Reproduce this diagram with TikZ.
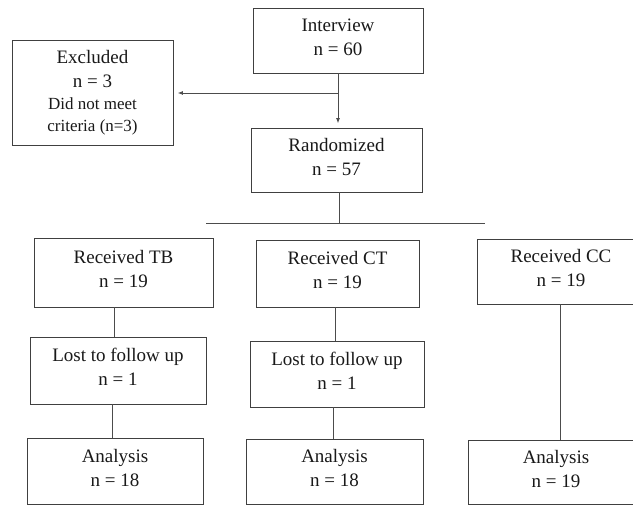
\documentclass[tikz,border=0pt]{standalone}
\usepackage{fontspec}
\setmainfont{Liberation Serif}
\usetikzlibrary{arrows.meta}
\tikzset{
  flowbox/.style={draw=black!75, line width=0.8pt, rectangle, align=center, inner sep=0pt,
    font=\fontsize{19}{24}\selectfont, text=black!90, text depth=7pt},
  conn/.style={draw=black!70, line width=0.8pt},
  arr/.style={conn, -{Latex[length=5pt,width=4pt]}, shorten >=4.5pt}
}
\begin{document}
\begin{tikzpicture}[x=1pt,y=-1pt]
\clip (0,0) rectangle (633,505);
\fill[white] (0,0) rectangle (633,505);
% boxes
\node[flowbox, minimum width=170pt, minimum height=65pt] (interview) at (338,40.5) {Interview\\n = 60};
\node[flowbox, text depth=4pt, minimum width=161pt, minimum height=105pt] (excluded) at (92.5,92.5) {Excluded\\n = 3\\[-2pt]{\fontsize{17}{21}\selectfont Did not meet}\\[-2pt]{\fontsize{17}{21}\selectfont criteria (n=3)}};
\node[flowbox, minimum width=171pt, minimum height=64pt] (random) at (336.5,160) {Randomized\\n = 57};
\node[flowbox, minimum width=179pt, minimum height=69pt] (tb) at (123.5,272.5) {Received TB\\n = 19};
\node[flowbox, minimum width=163pt, minimum height=67pt] (ct) at (337.5,273.5) {Received CT\\n = 19};
\node[flowbox, minimum width=168pt, minimum height=65pt] (cc) at (561,271.5) {Received CC\\n = 19};
\node[flowbox, minimum width=176pt, minimum height=67pt] (losttb) at (118,370.5) {Lost to follow up\\n = 1};
\node[flowbox, minimum width=174pt, minimum height=66pt] (lostct) at (337,374) {Lost to follow up\\n = 1};
\node[flowbox, minimum width=176pt, minimum height=66pt] (antb) at (115,471) {Analysis\\n = 18};
\node[flowbox, minimum width=177pt, minimum height=65pt] (anct) at (334.5,471.5) {Analysis\\n = 18};
\node[flowbox, minimum width=176pt, minimum height=64pt] (ancc) at (556,472) {Analysis\\n = 19};
% helper coordinates
\coordinate (branch) at (338,93);
\coordinate (splitL) at (206,223);
\coordinate (splitR) at (485,223);
\coordinate (xr) at (339,0);
\coordinate (xtbA) at (114,0);
\coordinate (xtbB) at (112,0);
\coordinate (xctA) at (335,0);
\coordinate (xctB) at (333,0);
\coordinate (xcc) at (560,0);
% connectors
\draw[arr] (interview.south -| branch) -- (random.north -| branch);
\draw[arr] (branch) -- (excluded.east |- branch);
\draw[conn] (random.south -| xr) -- (splitL -| xr);
\draw[conn] (splitL) -- (splitR);
\draw[conn] (tb.south -| xtbA) -- (losttb.north -| xtbA);
\draw[conn] (losttb.south -| xtbB) -- (antb.north -| xtbB);
\draw[conn] (ct.south -| xctA) -- (lostct.north -| xctA);
\draw[conn] (lostct.south -| xctB) -- (anct.north -| xctB);
\draw[conn] (cc.south -| xcc) -- (ancc.north -| xcc);
\end{tikzpicture}
\end{document}
